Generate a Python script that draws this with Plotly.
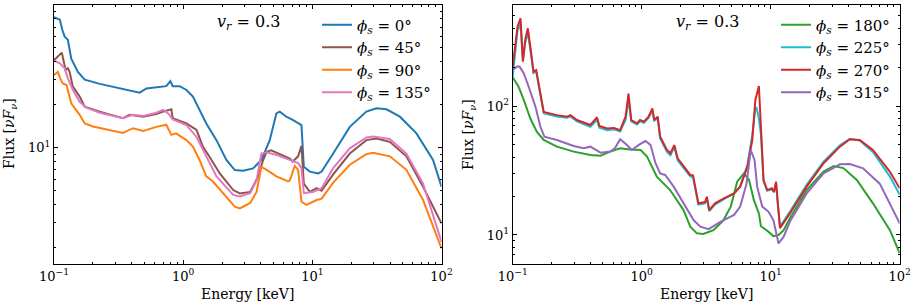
import plotly.graph_objects as go

# ---------------- Left panel data (phi_s = 0, 45, 90, 135 deg) ----------------
e_0 = [0.1, 0.111, 0.116, 0.121, 0.128, 0.136, 0.153, 0.173, 0.226, 0.304, 0.461, 0.519, 0.62, 0.74,
       0.796, 0.83, 0.94, 1.06, 1.19, 1.34, 1.51, 1.81, 2.16, 2.51, 2.91, 3.48, 4.03, 4.68, 5.27,
       5.6, 6.3, 7.1, 7.76, 8.24, 8.59, 9.56, 11.1, 11.8, 14.5, 19.5, 26.2, 31.4, 37.5, 47.6, 64, 86, 100]
f_0 = [82, 79, 66.8, 60, 57, 42, 34, 30, 28, 26.5, 24.3, 26, 26.5, 27,
       29.3, 27, 27, 25.4, 22.8, 18.4, 14.8, 11.3, 8.2, 6.97, 6.9, 7.16, 8.2, 11.3, 17.4,
       17.9, 16.5, 15.6, 14.8, 14.4, 7.36, 6.8, 6.6, 6.8, 9.1, 14, 17.9, 18.9, 18.6, 16.5, 12.6, 8.2, 5.33]

e_45 = [0.1, 0.107, 0.115, 0.119, 0.123, 0.128, 0.132, 0.14, 0.158, 0.173, 0.226, 0.342, 0.385, 0.49,
        0.62, 0.7, 0.81, 0.83, 1.06, 1.27, 1.42, 1.6, 1.92, 2.44, 2.75, 3.3, 3.8, 4.16, 4.43, 4.8,
        5.6, 6.7, 7.05, 7.76, 8.24, 8.59, 9.56, 10.8, 11.8, 14.5, 19.5, 26.2, 31.4, 39.8, 53.5, 72, 100]
f_45 = [41, 43.5, 46.4, 40, 35, 36, 34, 26.8, 22.8, 19.4, 17.9, 16.1, 17, 16.5,
        17.2, 17.9, 18.6, 16.1, 14.8, 13.3, 10.2, 8.65, 6.6, 5.05, 4.78, 4.9, 6.27, 8.2, 9.37, 9.6,
        9.0, 8.4, 8.0, 8.7, 10.3, 5.6, 4.9, 5.2, 5.0, 6.5, 9.1, 11.3, 11.6, 11.0, 8.7, 5.33, 2.95]

e_90 = [0.1, 0.107, 0.111, 0.117, 0.125, 0.132, 0.136, 0.158, 0.173, 0.2, 0.342, 0.409, 0.49, 0.62,
        0.74, 0.81, 0.88, 1.06, 1.19, 1.34, 1.51, 1.7, 2.04, 2.51, 2.75, 3.3, 3.7, 4.03, 4.43, 5.27,
        6.5, 6.7, 7.3, 7.76, 8.24, 9.0, 10.8, 11.8, 14.5, 19.5, 26.2, 29.5, 39.8, 53.5, 72, 100]
f_90 = [32.3, 34, 31, 28.2, 27.5, 23, 20.5, 17, 14.8, 14.1, 12.7, 13.7, 13.1, 14,
        14.5, 12.3, 12.6, 11.3, 10.2, 8.2, 6.3, 5.8, 4.8, 3.86, 3.76, 4.1, 4.9, 7.36, 7.0, 6.3,
        5.8, 5.9, 7.45, 7.0, 4.18, 3.97, 4.3, 4.4, 5.7, 7.6, 9.0, 9.2, 8.7, 7.0, 4.3, 1.97]

e_135 = [0.1, 0.111, 0.121, 0.128, 0.14, 0.158, 0.178, 0.226, 0.342, 0.409, 0.49, 0.62, 0.7, 0.77,
         0.83, 1.06, 1.27, 1.51, 1.81, 2.44, 2.75, 3.3, 3.7, 4.03, 4.43, 5.27, 6.7, 7.76, 8.24, 8.59,
         10.1, 11.8, 14.5, 19.5, 26.2, 29.5, 39.8, 53.5, 72, 100]
f_135 = [41, 39, 36, 30.6, 25.4, 21, 19.1, 17.6, 16.1, 17, 16.7, 17.6, 18.4, 17.3,
         15.8, 14.4, 11.9, 8.65, 6.3, 4.67, 4.55, 4.8, 5.9, 9.1, 9.3, 8.9, 8.2, 7.8, 7.2, 4.8,
         4.9, 5.2, 7.2, 9.9, 11.8, 12.0, 11.5, 9.1, 5.6, 2.19]

# ---------------- Right panel data (phi_s = 180, 225, 270, 315 deg) ----------------
e_270 = [0.1, 0.105, 0.109, 0.115, 0.12, 0.125, 0.131, 0.137, 0.145, 0.152, 0.159, 0.169, 0.174,
         0.22, 0.264, 0.28, 0.315, 0.4, 0.45, 0.47, 0.54, 0.61, 0.68, 0.75, 0.79, 0.83, 0.92, 0.97,
         1.04, 1.13, 1.21, 1.25, 1.33, 1.39, 1.57, 1.67, 1.79, 1.9, 2.11, 2.38, 2.5, 2.62, 2.75,
         3.1, 3.2, 3.34, 3.7, 4.34, 5.2, 5.8, 6.6, 7.2, 7.6, 8.1, 8.4, 8.8, 9.4, 10.2, 10.6, 11.0,
         11.3, 11.8, 14.1, 19, 25.7, 34.4, 41, 49, 62, 83.8, 100]
f_270 = [202, 306, 412, 478, 221, 325, 400, 288, 185, 190, 150, 111, 90,
         85, 82.6, 85, 77.8, 71.3, 81.7, 70, 67, 67.5, 65, 82.6, 125, 77.8, 73.4, 78,
         75.6, 82.6, 96, 78, 82.6, 57.8, 45.6, 43, 49.8, 39.3, 33.9, 29.2, 29, 23, 17.6,
         18, 19.8, 15.6, 17.6, 19.2, 21, 23.7, 33.9, 54.5, 111, 143, 69, 26.7, 22.3, 23, 21.7, 25.9,
         18.7, 11.3, 14.7, 23.7, 36, 48.4, 55.2, 54.5, 45.6, 31, 23]

e_225 = [0.1, 0.105, 0.109, 0.115, 0.12, 0.125, 0.131, 0.137, 0.145, 0.152, 0.159, 0.169, 0.174,
         0.22, 0.264, 0.28, 0.315, 0.4, 0.45, 0.47, 0.54, 0.61, 0.68, 0.75, 0.79, 0.83, 0.92, 0.97,
         1.04, 1.13, 1.21, 1.25, 1.33, 1.39, 1.57, 1.67, 1.79, 1.9, 2.11, 2.38, 2.5, 2.62, 2.75,
         3.1, 3.2, 3.34, 3.7, 4.34, 5.2, 5.8, 6.6, 7.2, 7.6, 7.75, 8.1, 8.4, 8.8, 9.4, 10.2, 10.6, 11.0,
         11.3, 11.8, 14.1, 19, 25.7, 34.4, 41, 49, 62, 83.8, 100]
f_225 = [169, 290, 385, 430, 225, 310, 370, 275, 180, 186, 147, 108, 88,
         83, 81, 83, 76, 69, 78, 68, 65, 66, 63.5, 78, 112, 76, 72, 76,
         74, 81, 92, 77, 80, 56, 44, 41.5, 48, 38, 33, 28.5, 28, 22.5, 17.2,
         17.6, 19.2, 15.3, 17.2, 19, 21, 23.7, 35, 60, 95, 98, 80, 60, 26, 22, 22.6, 21.4, 25,
         18.3, 11.6, 15.2, 24.5, 37, 49.5, 55.5, 54, 44, 28.5, 20.5]

e_180 = [0.1, 0.111, 0.122, 0.137, 0.154, 0.174, 0.22, 0.297, 0.4, 0.48, 0.57, 0.68, 0.81, 0.98,
         1.1, 1.31, 1.66, 2.11, 2.38, 2.68, 3.0, 3.6, 4.3, 4.9, 5.5, 6.2, 6.8, 7.4, 8.1, 8.4,
         9.4, 10.5, 11.5, 12.6, 14.1, 19, 25.7, 30.8, 36.6, 46.5, 62, 84, 100]
f_180 = [167, 141, 111, 80, 63, 54.5, 48.4, 44.3, 41.7, 41.2, 44.3, 47, 46, 45.6,
         40.5, 28.3, 22.3, 15.6, 11.6, 10.3, 10.2, 10.9, 13, 16.6, 25.9, 30, 26.7, 18.7, 14.7, 11.7,
         10.8, 9.8, 10, 10.9, 13.5, 22.3, 31, 34.3, 33, 26.7, 17.6, 10.9, 7.2]

e_315 = [0.1, 0.108, 0.113, 0.122, 0.133, 0.15, 0.164, 0.176, 0.22, 0.297, 0.355, 0.4, 0.48, 0.57,
         0.62, 0.68, 0.75, 0.84, 0.95, 1.07, 1.17, 1.28, 1.39, 1.52, 1.77, 2.11, 2.53, 2.85, 3.3,
         4.1, 5.2, 5.8, 6.5, 7.0, 7.5, 7.85, 8.6, 9.6, 10.5, 11.5, 12.6, 14.1, 19, 25.7, 34.4,
         41, 52, 70, 100]
f_315 = [190, 202, 202, 179, 141, 99, 69, 57.8, 54.5, 49, 47, 48.4, 43.5, 44.3,
         47, 55.2, 51, 45.6, 50, 53.5, 50, 36, 30, 29.2, 23.7, 17.6, 13, 11.6, 11.1,
         12.7, 14.3, 16.6, 25, 45.6, 38, 23.7, 16.6, 15.2, 13, 8.6, 9.7, 12.7, 21, 30, 35.3,
         35.5, 32.9, 25, 12.3]

# ---------------- Tick labels ----------------
x_tickvals = [0.1, 1, 10, 100]
x_ticktext = ["10<sup>−1</sup>", "10<sup>0</sup>", "10<sup>1</sup>", "10<sup>2</sup>"]
x_minor = [0.2, 0.3, 0.4, 0.5, 0.6, 0.7, 0.8, 0.9, 2, 3, 4, 5, 6, 7, 8, 9, 20, 30, 40, 50, 60, 70, 80, 90]
y_tickvals = [10, 100]
y_ticktext = ["10<sup>1</sup>", "10<sup>2</sup>"]
y1_minor = [2, 3, 4, 5, 6, 7, 8, 9, 20, 30, 40, 50, 60, 70, 80, 90]
y2_minor = [6, 7, 8, 9, 20, 30, 40, 50, 60, 70, 80, 90, 200, 300, 400, 500, 600]

SERIF = "DejaVu Serif"
fig = go.Figure()

left = [
    (e_0, f_0, "#1f77b4", "<i>ϕ</i><sub><i>s</i></sub> = 0°"),
    (e_45, f_45, "#8c564b", "<i>ϕ</i><sub><i>s</i></sub> = 45°"),
    (e_90, f_90, "#ff7f0e", "<i>ϕ</i><sub><i>s</i></sub> = 90°"),
    (e_135, f_135, "#e377c2", "<i>ϕ</i><sub><i>s</i></sub> = 135°"),
]
right = [
    (e_180, f_180, "#2ca02c", "<i>ϕ</i><sub><i>s</i></sub> = 180°"),
    (e_225, f_225, "#17becf", "<i>ϕ</i><sub><i>s</i></sub> = 225°"),
    (e_270, f_270, "#d62728", "<i>ϕ</i><sub><i>s</i></sub> = 270°"),
    (e_315, f_315, "#9467bd", "<i>ϕ</i><sub><i>s</i></sub> = 315°"),
]
for e, f, c, name in left:
    fig.add_trace(go.Scatter(x=e, y=f, mode="lines", name=name, line=dict(color=c, width=2),
                             xaxis="x", yaxis="y", legend="legend"))
for e, f, c, name in right:
    fig.add_trace(go.Scatter(x=e, y=f, mode="lines", name=name, line=dict(color=c, width=2),
                             xaxis="x2", yaxis="y2", legend="legend2"))

tickfont = dict(family=SERIF, size=13, color="black")
common = dict(type="log", showline=True, linecolor="black", linewidth=1, mirror="allticks",
              ticks="inside", ticklen=4, tickwidth=1, tickcolor="black", showgrid=False,
              zeroline=False, tickfont=tickfont, tickmode="array", automargin=False)

def minor(vals):
    return dict(ticks="inside", ticklen=2, tickwidth=0.8, tickcolor="black", tickmode="array",
                tickvals=vals, showgrid=False)

fig.update_layout(
    width=917, height=307, margin=dict(l=0, r=0, t=0, b=0, autoexpand=False),
    paper_bgcolor="white", plot_bgcolor="white", showlegend=True,
    xaxis=dict(domain=[54 / 917, 441.5 / 917], range=[-1, 2], tickvals=x_tickvals,
               ticktext=x_ticktext, minor=minor(x_minor), anchor="y", **common),
    yaxis=dict(domain=[0.14, 0.9837], range=[0.185, 2.0], tickvals=y_tickvals,
               ticktext=y_ticktext, minor=minor(y1_minor), anchor="x", **common),
    xaxis2=dict(domain=[512.7 / 917, 899.7 / 917], range=[-1, 2], tickvals=x_tickvals,
                ticktext=x_ticktext, minor=minor(x_minor), anchor="y2", **common),
    yaxis2=dict(domain=[0.14, 0.9837], range=[0.775, 2.783], tickvals=y_tickvals,
                ticktext=y_ticktext, minor=minor(y2_minor), anchor="x2", **common),
    legend=dict(x=317 / 917, y=0.972, xanchor="left", yanchor="top", bgcolor="rgba(0,0,0,0)",
                font=dict(family=SERIF, size=15, color="black"), borderwidth=0),
    legend2=dict(x=776 / 917, y=0.972, xanchor="left", yanchor="top", bgcolor="rgba(0,0,0,0)",
                 font=dict(family=SERIF, size=15, color="black"), borderwidth=0),
)

annfont = dict(family=SERIF, size=14, color="black")
anns = [
    dict(x=(54 + 441.5) / 2 / 917, y=1 - 294 / 307, text="Energy [keV]"),
    dict(x=(512.7 + 899.7) / 2 / 917, y=1 - 294 / 307, text="Energy [keV]"),
    dict(x=10 / 917, y=1 - 134 / 307, text="Flux [<i>νF</i><sub><i>ν</i></sub>]", textangle=-90),
    dict(x=469 / 917, y=1 - 134 / 307, text="Flux [<i>νF</i><sub><i>ν</i></sub>]", textangle=-90),
]
for a in anns:
    fig.add_annotation(xref="paper", yref="paper", showarrow=False, font=annfont,
                       xanchor="center", yanchor="middle", **a)
for xpx in (248, 707):
    fig.add_annotation(xref="paper", yref="paper", x=xpx / 917, y=1 - 22 / 307, showarrow=False,
                       text="<i>v</i><sub><i>r</i></sub> = 0.3", xanchor="center", yanchor="middle",
                       font=dict(family=SERIF, size=16, color="black"))

fig.write_html("out.html", config={"displayModeBar": False},
               post_script="document.body.style.margin='0';document.body.style.padding='0';")
